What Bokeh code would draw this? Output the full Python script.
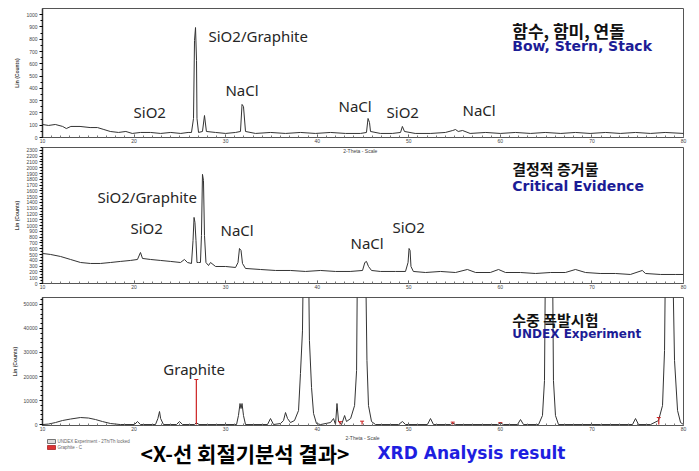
from bokeh.plotting import figure
from bokeh.layouts import column
from bokeh.models import Range1d, FixedTicker
from bokeh.core.properties import value
from bokeh.embed import file_html
from bokeh.resources import INLINE

# ---------------- data (2-Theta in degrees, intensity in counts) ----------------
x_ticks = [10, 20, 30, 40, 50, 60, 70, 80]

# Panel 1: Bow, Stern, Stack
p1_x = [10.0, 10.66, 11.4, 12.2, 12.6, 13.1, 14.1, 15.2, 16.0, 16.7, 17.4, 18.3, 19.1, 19.8, 20.7,
        21.8, 22.9, 24.0, 25.1, 25.9, 26.27, 26.49, 26.6, 26.71, 26.82, 26.87, 27.04, 27.47, 27.69,
        27.9, 28.9, 30.0, 31.08, 31.62, 31.79, 31.95, 32.17, 33.26, 34.9, 36.54, 38.17, 39.8, 41.45,
        43.09, 44.73, 45.38, 45.55, 45.71, 45.82, 46.9, 48.2, 49.1, 49.3, 49.53, 50.7, 52.4, 54.0,
        54.8, 55.1, 55.4, 55.87, 56.7, 58.4, 60.0, 61.65, 63.3, 64.9, 66.6, 68.2, 69.8, 71.5, 73.1,
        74.76, 76.4, 78.0, 80.0]
p1_y = [106, 98, 106, 90, 73, 90, 90, 81, 81, 65, 49, 41, 49, 33, 41,
        41, 33, 41, 33, 41, 41, 155, 790, 895, 627, 155, 41, 49, 179,
        49, 41, 33, 41, 49, 269, 252, 49, 33, 41, 33, 41, 33, 41,
        33, 33, 41, 155, 122, 49, 33, 33, 41, 90, 49, 33, 33, 41,
        57, 65, 49, 57, 33, 41, 33, 41, 33, 41, 33, 41, 33, 41, 33,
        41, 33, 41, 33]
p1_yticks = [0, 100, 200, 300, 400, 500, 600, 700, 800, 900, 1000]
p1_labels = ["SiO2/Graphite", "SiO2", "NaCl", "NaCl", "SiO2", "NaCl"]
p1_lx = [28.13, 19.94, 29.98, 42.33, 47.57, 55.87]
p1_ly = [830, 204, 383, 260, 204, 220]

# Panel 2: Critical Evidence
p2_x = [10.0, 10.87, 11.97, 13.06, 14.15, 15.24, 16.33, 17.43, 18.5, 19.6, 20.37, 20.7, 20.92,
        21.8, 22.9, 24.0, 25.07, 25.5, 25.83, 26.27, 26.44, 26.55, 26.65, 26.76, 26.87, 27.04,
        27.25, 27.36, 27.47, 27.58, 27.69, 27.85, 28.13, 28.35, 28.9, 30.0, 31.08, 31.35, 31.51,
        31.68, 31.84, 32.17, 33.8, 35.45, 37.08, 38.72, 40.36, 42.0, 43.6, 44.95, 45.2, 45.38,
        45.6, 45.93, 46.9, 48.55, 49.64, 49.92, 50.03, 50.14, 50.24, 50.5, 51.83, 53.46, 55.1,
        56.4, 57.3, 58.9, 59.8, 60.56, 62.2, 63.84, 65.48, 67.1, 68.2, 69.3, 70.9, 72.57, 74.2,
        75.5, 75.85, 77.5, 79.1, 80.0]
p2_y = [519, 502, 467, 415, 363, 346, 346, 363, 381, 398, 415, 536, 433,
        415, 398, 381, 363, 415, 363, 346, 744, 1142, 1055, 744, 363, 363,
        363, 830, 1886, 1782, 830, 363, 311, 363, 294, 294, 277, 363, 605,
        571, 346, 260, 242, 225, 225, 208, 225, 208, 208, 225, 363, 381,
        294, 225, 208, 208, 208, 363, 605, 571, 294, 208, 190, 208, 190,
        242, 190, 190, 242, 190, 190, 173, 190, 190, 242, 190, 173, 173, 156,
        225, 173, 156, 156, 156]
p2_yticks = list(range(0, 2400, 100))
p2_labels = ["SiO2/Graphite", "SiO2", "NaCl", "NaCl", "SiO2"]
p2_lx = [16.0, 19.6, 29.44, 43.64, 48.22]
p2_ly = [1488, 952, 917, 692, 969]

# Panel 3: UNDEX Experiment
p3_x = [10.0, 10.66, 11.42, 12.18, 13.06, 14.15, 15.02, 15.79, 16.55, 17.43, 18.5, 20.05, 20.37,
        20.7, 22.34, 22.6, 22.78, 22.9, 23.21, 24.63, 24.96, 25.3, 26.6, 26.82, 27.04, 31.19,
        31.4, 31.57, 31.68, 31.79, 31.95, 32.17, 34.57, 34.9, 35.23, 35.99, 36.32, 36.54, 36.76,
        37.08, 37.52, 37.96, 38.17, 38.39, 38.5, 38.78, 39.04, 39.15, 39.38, 39.6, 39.92, 40.37,
        41.45, 41.78, 42.0, 42.16, 42.33, 42.66, 42.99, 43.2, 43.65, 44.08, 44.3, 44.4, 44.84,
        45.27, 45.43, 45.6, 45.93, 46.37, 48.88, 49.31, 49.64, 52.04, 52.37, 52.7, 54.56, 54.77,
        55.1, 59.7, 60.0, 60.34, 61.87, 62.2, 62.53, 64.17, 64.6, 64.82, 64.93, 65.31, 65.69,
        65.8, 66.02, 66.35, 70.94, 74.43, 74.76, 75.09, 76.4, 77.27, 77.71, 77.93, 78.04, 78.42,
        78.8, 79.02, 79.35, 79.68, 80.0]
p3_y = [0, 200, 830, 1670, 2290, 2920, 2710, 2080, 1250, 420, 0, 0, 1250,
        0, 0, 2500, 5420, 2500, 0, 0, 1250, 0, 0, 830, 0, 0,
        3750, 8750, 6670, 8750, 3750, 0, 0, 2500, 0, 420, 1670, 5000, 2500,
        830, 1670, 5830, 21250, 39000, 72500, 135000, 72500, 35000, 15400, 4580, 420, 0,
        830, 2500, 0, 8750, 1250, 0, 3750, 1250, 2500, 7900, 22500, 72500, 135000,
        72500, 26700, 7900, 1250, 0, 0, 1250, 0, 0, 2500, 0, 0, 625,
        0, 0, 625, 0, 0, 2080, 0, 0, 3750, 18300, 72500, 135000, 72500,
        18300, 3750, 0, 0, 0, 2500, 0, 0, 1670, 7900, 30800, 72500, 135000,
        72500, 26700, 5830, 830, 0]
p3_yticks = [0, 10000, 20000, 30000, 40000, 50000]
graphite_x = [26.8, 42.5, 44.9, 54.8, 60.0, 77.3]
graphite_y = [18750, 1200, 1400, 1000, 800, 2900]
p3_labels = ["Graphite"]
p3_lx = [23.2]
p3_ly = [23300]

titles_kr = ["함수, 함미, 연돌", "결정적 증거물", "수중 폭발시험"]
titles_en = ["Bow, Stern, Stack", "Critical Evidence", "UNDEX Experiment"]

TXT = "#262626"
NAVY = "#1c1c96"
W = 699


def panel(height, border_top, border_bottom, y_end, y_start, yticks, minor):
    p = figure(width=W, height=height, x_range=Range1d(10, 80), y_range=Range1d(y_start, y_end),
               output_backend="svg", toolbar_location=None,
               min_border_left=42, min_border_right=16, min_border_top=border_top,
               min_border_bottom=border_bottom)
    p.grid.visible = False
    p.outline_line_color = "#555555"
    p.outline_line_width = 1
    p.background_fill_color = "white"
    p.border_fill_color = "white"
    xa = p.xaxis[0]
    xa.ticker = FixedTicker(ticks=x_ticks, minor_ticks=[float(v) for v in range(10, 81)])
    xa.major_label_text_font_size = "5px"
    xa.major_label_text_color = "#444444"
    xa.major_label_standoff = 1
    xa.major_tick_in = 3
    xa.major_tick_out = 0
    xa.minor_tick_in = 2
    xa.minor_tick_out = 0
    xa.axis_line_color = "#555555"
    xa.major_tick_line_color = "#555555"
    xa.minor_tick_line_color = "#777777"
    ya = p.yaxis[0]
    ya.ticker = FixedTicker(ticks=yticks, minor_ticks=minor)
    ya.major_label_text_font_size = "5px"
    ya.major_label_text_color = "#444444"
    ya.major_label_standoff = 2
    ya.major_tick_in = 0
    ya.major_tick_out = 3
    ya.minor_tick_in = 0
    ya.minor_tick_out = 2
    ya.axis_line_color = "#333333"
    ya.axis_line_width = 1.5
    ya.axis_label = "Lin (Counts)"
    ya.axis_label_text_font_size = "5px"
    ya.axis_label_text_font_style = "bold"
    ya.axis_label_standoff = 3
    return p


def add_titles(p, i, xk, yk, ye, size_kr, size_en):
    p.text(x=[xk], y=[yk], text=[titles_kr[i]], text_font=value("Noto Sans CJK KR"),
           text_font_style="bold", text_font_size=size_kr, text_color="#111111",
           text_baseline="middle", text_align="left")
    p.text(x=[xk], y=[ye], text=[titles_en[i]], text_font=value("DejaVu Sans"),
           text_font_style="bold", text_font_size=size_en, text_color=NAVY,
           text_baseline="middle", text_align="left")


def add_peak_labels(p, xs, ys, labels):
    p.text(x=xs, y=ys, text=labels, text_font=value("Noto Sans"), text_font_size="15px",
           text_color=TXT, text_baseline="middle", text_align="left")


# ---------------- panel 1 ----------------
p1 = panel(147, 8, 10, 1050, 0, p1_yticks, list(range(0, 1050, 50)))
p1.line(p1_x, p1_y, line_color="#333333", line_width=1)
add_peak_labels(p1, p1_lx, p1_ly, p1_labels)
add_titles(p1, 0, 61.3, 871, 741, "17px", "14px")

# ---------------- panel 2 ----------------
p2 = panel(150, 0, 14, 2350, 0, p2_yticks, list(range(0, 2400, 50)))
p2.line(p2_x, p2_y, line_color="#333333", line_width=1)
p2.text(x=[44.7], y=[2290], text=["2-Theta - Scale"], text_font=value("Liberation Sans"),
        text_font_size="5px", text_color="#444444", text_baseline="middle", text_align="center")
add_peak_labels(p2, p2_lx, p2_ly, p2_labels)
add_titles(p2, 1, 61.3, 1990, 1678, "15px", "14px")

# ---------------- panel 3 ----------------
p3 = panel(136, 0, 8, 52900, -400, p3_yticks, list(range(0, 53000, 2000)))
p3.line(p3_x, p3_y, line_color="#333333", line_width=1)
p3.segment(x0=graphite_x, y0=[0] * len(graphite_x), x1=graphite_x, y1=graphite_y,
           line_color="#cc2222", line_width=1.2)
p3.scatter(x=graphite_x, y=graphite_y, marker="dash", size=4, line_color="#cc2222")
add_peak_labels(p3, p3_lx, p3_ly, p3_labels)
add_titles(p3, 2, 61.3, 43700, 37500, "15px", "12px")

# ---------------- caption strip ----------------
p4 = figure(width=W, height=38, x_range=Range1d(0, 641), y_range=Range1d(0, 38),
            output_backend="svg", toolbar_location=None, x_axis_type=None, y_axis_type=None,
            min_border_left=42, min_border_right=16, min_border_top=0, min_border_bottom=0)
p4.grid.visible = False
p4.outline_line_color = None
p4.text(x=[320], y=[34], text=["2-Theta - Scale"], text_font=value("Liberation Sans"),
        text_font_size="5px", text_color="#444444", text_baseline="middle", text_align="center")
p4.rect(x=[9, 9], y=[30, 24], width=8, height=4, fill_color=["#dddddd", "#dd3333"],
        line_color=["#555555", "#aa2222"], line_width=0.8)
p4.text(x=[15, 15], y=[30, 24],
        text=["UNDEX Experiment - 2Th/Th locked", "Graphite - C"],
        text_font=value("Liberation Sans"), text_font_size="4.5px", text_color="#666666",
        text_baseline="middle")
p4.text(x=[98], y=[19], text=["<X-선 회절기분석 결과>"], text_font=value("Noto Sans CJK KR"),
        text_font_style="bold", text_font_size="21px", text_color="#000000",
        text_baseline="middle")
p4.text(x=[335], y=[19], text=["XRD Analysis result"], text_font=value("DejaVu Sans"),
        text_font_style="bold", text_font_size="17px", text_color="#1e1ee0",
        text_baseline="middle")

layout = column(p1, p2, p3, p4, spacing=0)
open("out.html", "w").write(file_html(layout, INLINE))
